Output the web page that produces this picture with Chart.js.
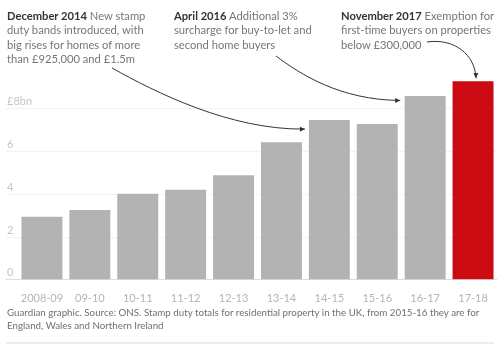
<!DOCTYPE html>
<html>
<head>
<meta charset="utf-8">
<script src="https://cdn.jsdelivr.net/npm/chart.js@4/dist/chart.umd.min.js"></script>
<style>
  html, body { margin: 0; padding: 0; background: #fff; }
  #wrap { position: relative; width: 500px; height: 349px; overflow: hidden; font-family: Lato, sans-serif; }
  #wrap canvas { position: absolute; left: 0; top: 0; }
  .note { position: absolute; top: 9px; font-size: 11.2px; line-height: 14.3px; color: #767676; white-space: nowrap; }
  .note b { color: #333; font-weight: 700; }
  #src { position: absolute; left: 7px; top: 305.5px; font-size: 9.75px; line-height: 13px; color: #707070; white-space: nowrap; }
  #rule { position: absolute; left: 6px; top: 342px; width: 488px; height: 2px; background: #ececec; }
</style>
</head>
<body>
<div id="wrap">
  <canvas id="c" width="500" height="349"></canvas>
  <div class="note" style="left:7px"><b>December 2014</b> New stamp<br>duty bands introduced, with<br>big rises for homes of more<br>than £925,000 and £1.5m</div>
  <div class="note" style="left:174px"><b>April 2016</b> Additional 3%<br>surcharge for buy-to-let and<br>second home buyers</div>
  <div class="note" style="left:341px"><b>November 2017</b> Exemption for<br>first-time buyers on properties<br>below £300,000</div>
  <div id="src">Guardian graphic. Source: ONS. Stamp duty totals for residential property in the UK, from 2015-16 they are for<br>England, Wales and Northern Ireland</div>
  <div id="rule"></div>
</div>
<script>
const categories = ['2008-09','09-10','10-11','11-12','12-13','13-14','14-15','15-16','16-17','17-18'];
const stampDutyBn = [2.95, 3.27, 4.03, 4.21, 4.89, 6.43, 7.48, 7.29, 8.6, 9.29];
const yTicks = [0, 2, 4, 6, 8];
const highlightIndex = 9;

const barColors = categories.map((c, i) => i === highlightIndex ? '#cc0a11' : '#b3b3b3');

const arrowsPlugin = {
  id: 'arrows',
  afterDraw(chart) {
    const ctx = chart.ctx;
    const xs = chart.scales.x, ys = chart.scales.y;
    const half = xs.getPixelForValue(1) - xs.getPixelForValue(0);
    const arrows = [
      { p0: [112, 68], p1: [155, 92], p2: [230, 130],
        end: [xs.getPixelForValue(6) - half * 0.51, ys.getPixelForValue(7.05)] },
      { p0: [276, 56], p1: [300, 74], p2: [340, 100],
        end: [xs.getPixelForValue(8) - half * 0.52, ys.getPixelForValue(8.39)] },
      { p0: [427, 42], p1: [455, 38], p2: [475, 55],
        end: [xs.getPixelForValue(9) + 3, ys.getPixelForValue(stampDutyBn[9]) - 3] }
    ];
    ctx.save();
    ctx.strokeStyle = '#333';
    ctx.fillStyle = '#333';
    ctx.lineWidth = 1;
    arrows.forEach(a => {
      ctx.beginPath();
      ctx.moveTo(a.p0[0], a.p0[1]);
      ctx.bezierCurveTo(a.p1[0], a.p1[1], a.p2[0], a.p2[1], a.end[0], a.end[1]);
      ctx.stroke();
      const ang = Math.atan2(a.end[1] - a.p2[1], a.end[0] - a.p2[0]);
      const L = 5, W = 2.5;
      ctx.beginPath();
      ctx.moveTo(a.end[0], a.end[1]);
      ctx.lineTo(a.end[0] - L * Math.cos(ang) + W * Math.sin(ang), a.end[1] - L * Math.sin(ang) - W * Math.cos(ang));
      ctx.lineTo(a.end[0] - L * Math.cos(ang) - W * Math.sin(ang), a.end[1] - L * Math.sin(ang) + W * Math.cos(ang));
      ctx.closePath();
      ctx.fill();
    });
    ctx.restore();
  }
};

new Chart(document.getElementById('c'), {
  type: 'bar',
  data: {
    labels: categories,
    datasets: [{
      data: stampDutyBn,
      backgroundColor: barColors,
      borderWidth: 0,
      barPercentage: 1,
      categoryPercentage: 0.855
    }]
  },
  options: {
    responsive: false,
    animation: false,
    devicePixelRatio: 1,
    layout: { padding: { top: 81, left: 6, right: 3, bottom: 40 } },
    plugins: { legend: { display: false }, tooltip: { enabled: false } },
    scales: {
      x: {
        grid: { display: false },
        border: { display: false },
        ticks: {
          color: '#b5b5b5',
          font: { family: 'Lato', size: 11 },
          padding: 4,
          maxRotation: 0,
          autoSkip: false
        }
      },
      y: {
        min: 0,
        max: 9.3,
        afterFit(scale) { scale.width = 12; },
        afterBuildTicks(scale) { scale.ticks = yTicks.map(v => ({ value: v })); },
        border: { display: false },
        grid: {
          color: ctx => (ctx.tick && ctx.tick.value === 0) ? '#dcdcdc' : '#f2f2f2',
          tickLength: 12,
          lineWidth: 1
        },
        ticks: {
          mirror: true,
          labelOffset: -7,
          padding: -11,
          color: '#c4c4c4',
          font: { family: 'Lato', size: 11 },
          callback: v => v === 8 ? '£8bn' : String(v)
        }
      }
    }
  },
  plugins: [arrowsPlugin]
});
</script>
</body>
</html>
